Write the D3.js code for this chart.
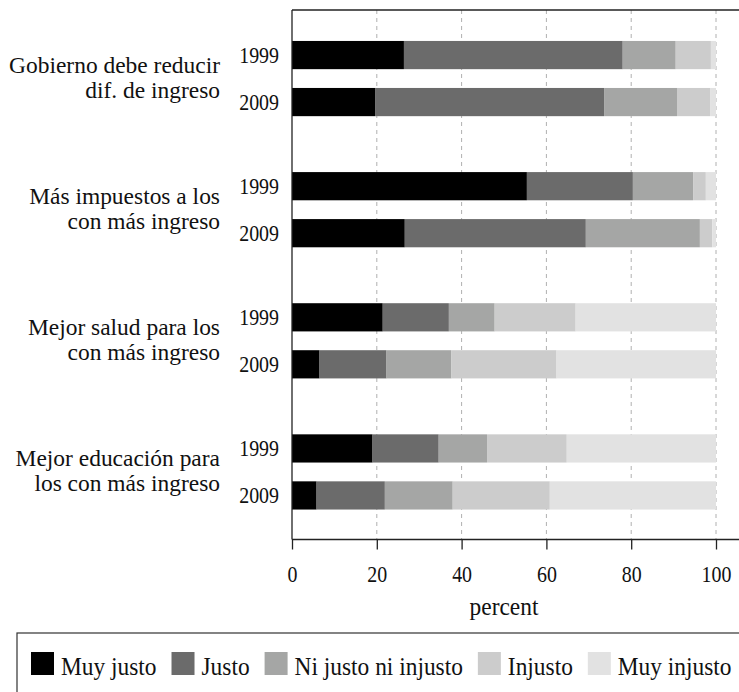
<!DOCTYPE html>
<html>
<head>
<meta charset="utf-8">
<script src="https://cdn.jsdelivr.net/npm/d3@7"></script>
<style>
  html, body { margin: 0; padding: 0; background: #fff; }
  svg { display: block; }
  svg text { font-family: "Liberation Serif", "DejaVu Serif", serif; fill: #111; }
</style>
</head>
<body>
<svg id="chart" width="739" height="692"></svg>
<script>
// ---- data ----
const categories = [
  ["Gobierno debe reducir", "dif. de ingreso"],
  ["Más impuestos a los", "con más ingreso"],
  ["Mejor salud para los", "con más ingreso"],
  ["Mejor educación para", "los con más ingreso"]
];
const years = ["1999", "2009"];
const responses = ["Muy justo", "Justo", "Ni justo ni injusto", "Injusto", "Muy injusto"];
// order: cat1-1999, cat1-2009, cat2-1999, cat2-2009, ...
const muyJusto   = [26.4, 19.7, 55.4, 26.6, 21.4, 6.5, 19.0, 5.8];
const justo      = [51.6, 53.9, 25.0, 42.7, 15.6, 15.8, 15.6, 16.1];
const niJusto    = [12.5, 17.2, 14.2, 26.9, 10.8, 15.3, 11.4, 16.0];
const injusto    = [8.3, 7.8, 3.0, 2.9, 19.1, 24.8, 18.8, 22.9];
const muyInjusto = [1.2, 1.4, 2.4, 0.9, 33.1, 37.6, 35.2, 39.2];
const xTicks = [0, 20, 40, 60, 80, 100];
const xTitle = "percent";

const colors = ["#000000", "#6b6b6b", "#a5a6a5", "#cccccc", "#e2e2e2"];

// text styling (font size + horizontal squeeze)
const wordSize = 26, wordSX = 0.9;
const catSize = 23, catSX = 1.02;
const numSize = 24, numSX = 0.83;

// ---- build table ----
const seriesVals = [muyJusto, justo, niJusto, injusto, muyInjusto];
const rows = [];
categories.forEach((c, ci) => {
  years.forEach((y, yi) => {
    const idx = ci * years.length + yi;
    const r = { cat: ci, year: y };
    responses.forEach((resp, ri) => r[resp] = seriesVals[ri][idx]);
    rows.push(r);
  });
});

const svg = d3.select("#chart");
const mLeft = 292, mTop = 10, mBottom = 539.5, mRight = 760;

const x = d3.scaleLinear().domain([0, 100]).range([mLeft, 716]);
const yGroup = d3.scaleBand().domain(d3.range(categories.length)).range([13, 537.5]);
const yInner = d3.scaleBand().domain(years).range([-47, 47]).paddingInner(0.4).paddingOuter(0.2);

// gridlines
svg.append("g").selectAll("line").data(xTicks.filter(t => t > 0)).join("line")
  .attr("x1", d => x(d)).attr("x2", d => x(d))
  .attr("y1", mTop).attr("y2", mBottom)
  .attr("stroke", "#b0b0b0").attr("stroke-width", 1).attr("stroke-dasharray", "4,4");

// stacked bars
const stack = d3.stack().keys(responses);
const stacked = stack(rows);
svg.append("g").selectAll("g").data(stacked).join("g")
  .attr("fill", (d, i) => colors[i])
  .selectAll("rect").data(d => d).join("rect")
  .attr("x", d => x(d[0]))
  .attr("width", d => x(d[1]) - x(d[0]))
  .attr("y", d => yGroup(d.data.cat) + yGroup.bandwidth() / 2 + yInner(d.data.year))
  .attr("height", yInner.bandwidth());

// frame lines
svg.append("line").attr("x1", mLeft).attr("x2", mRight).attr("y1", mTop).attr("y2", mTop)
  .attr("stroke", "#222").attr("stroke-width", 1.3);
svg.append("line").attr("x1", mLeft).attr("x2", mLeft).attr("y1", mTop).attr("y2", mBottom)
  .attr("stroke", "#222").attr("stroke-width", 1.3);

// x axis
const xAxis = d3.axisBottom(x).tickValues(xTicks).tickSize(10).tickSizeOuter(0);
const gx = svg.append("g").attr("transform", `translate(0,${mBottom})`).call(xAxis);
gx.attr("font-family", null).attr("font-size", null);
gx.select(".domain").remove();
gx.selectAll(".tick line").attr("stroke", "#222").attr("stroke-width", 1.3);
gx.selectAll(".tick text").attr("y", 0).attr("dy", null)
  .attr("transform", `translate(0,42.3) scale(${numSX},1)`)
  .attr("font-size", numSize).attr("fill", "#111");
svg.append("line").attr("x1", mLeft).attr("x2", mRight).attr("y1", mBottom).attr("y2", mBottom)
  .attr("stroke", "#222").attr("stroke-width", 1.3);

svg.append("text").attr("transform", `translate(${x(50)},614.5) scale(${wordSX},1)`)
  .attr("text-anchor", "middle").attr("font-size", wordSize).text(xTitle);

// year labels
svg.append("g").selectAll("text").data(rows).join("text")
  .attr("transform", d => `translate(279,${yGroup(d.cat) + yGroup.bandwidth() / 2 + yInner(d.year) + yInner.bandwidth() / 2 + 8}) scale(${numSX},1)`)
  .attr("text-anchor", "end").attr("font-size", numSize)
  .text(d => d.year);

// category labels
const catG = svg.append("g").selectAll("text").data(categories).join("text")
  .attr("text-anchor", "end").attr("font-size", catSize)
  .attr("transform", (d, i) => `translate(220,${yGroup(i) + yGroup.bandwidth() / 2}) scale(${catSX},1)`);
catG.selectAll("tspan").data(d => d).join("tspan")
  .attr("x", 0).attr("y", (d, i) => i === 0 ? -5.5 : 19.5).text(d => d);

// legend
svg.append("rect").attr("x", 17).attr("y", 633).attr("width", 800).attr("height", 100)
  .attr("fill", "none").attr("stroke", "#333").attr("stroke-width", 1.2);
const lg = svg.append("g");
let lx = 31;
responses.forEach((r, i) => {
  lg.append("rect").attr("x", lx).attr("y", 652).attr("width", 23).attr("height", 23).attr("fill", colors[i]);
  const t = lg.append("text").attr("transform", `translate(${lx + 30},674.5) scale(${wordSX},1)`)
    .attr("font-size", wordSize).text(r);
  lx = lx + 30 + t.node().getComputedTextLength() * wordSX + 15;
});
</script>
</body>
</html>
